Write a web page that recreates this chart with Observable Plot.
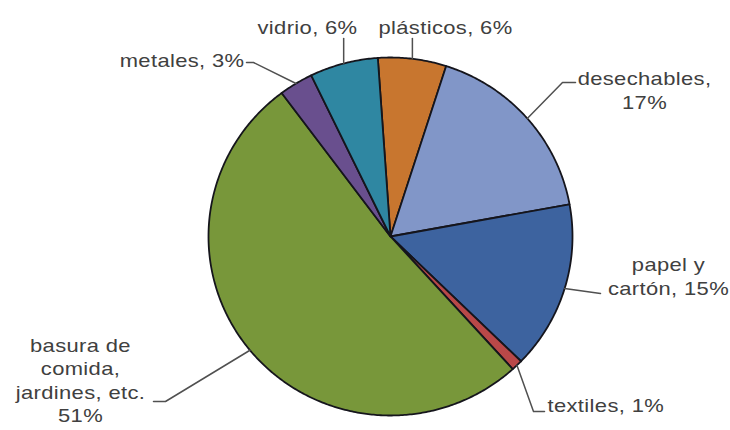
<!DOCTYPE html>
<html><head><meta charset="utf-8">
<script src="https://cdn.jsdelivr.net/npm/d3@7"></script>
<script src="https://cdn.jsdelivr.net/npm/@observablehq/plot@0.6"></script>
<style>
body{margin:0;background:#fff}
#chart svg text{letter-spacing:0.3px}
</style></head><body><div id="chart"></div>
<script>
// ---- data ----
const categories = ["plásticos","desechables","papel y cartón","textiles","basura de comida, jardines, etc.","metales","vidrio"];
const values = [6, 17, 15, 1, 51, 3, 6];
const labelTexts = ["plásticos, 6%","desechables,\n17%","papel y\ncartón, 15%","textiles, 1%","basura de\ncomida,\njardines, etc.\n51%","metales, 3%","vidrio, 6%"];
const sliceColors = ["#c8762f","#8196c8","#3d639f","#b94848","#78973a","#694f8e","#2f87a2"];

// ---- layout (pixel space) ----
const W = 730, H = 430;
const cx = 390, cy = 236, rx = 182, ry = 179;
const startAngle = -4 * Math.PI / 180;
const textStretch = 1.22;
// annotation layout: label anchor + leader bend points
const annot = [
  {x: 445, y: 26, anchor: "middle", leader: (p) => [[p[0], 38]]},
  {x: 644, y: 89, anchor: "middle", leader: () => [[562, 82], [575, 82]]},
  {x: 668, y: 275, anchor: "middle", leader: () => [[600, 293]]},
  {x: 547, y: 404, anchor: "start", leader: () => [[533, 411], [544, 411]]},
  {x: 80, y: 379, anchor: "middle", leader: () => [[165, 401], [153, 401]]},
  {x: 244, y: 59, anchor: "end", leader: () => [[253, 62], [246, 62]]},
  {x: 307, y: 26, anchor: "middle", leader: (p) => [[p[0], 38]]}
];

const arcs = d3.pie().sort(null).startAngle(startAngle).endAngle(startAngle + 2 * Math.PI)(values);
const pt = (a) => [cx + rx * Math.sin(a), cy - ry * Math.cos(a)];

const slicePts = [];
arcs.forEach((d, i) => {
  const cat = categories[i];
  slicePts.push({cat, x: cx, y: cy});
  const n = Math.max(2, Math.ceil((d.endAngle - d.startAngle) / 0.01));
  for (let k = 0; k <= n; k++) {
    const [x, y] = pt(d.startAngle + (d.endAngle - d.startAngle) * k / n);
    slicePts.push({cat, x, y});
  }
});

const leaderPts = [];
const labels = [];
arcs.forEach((d, i) => {
  const cat = categories[i];
  const p = pt((d.startAngle + d.endAngle) / 2);
  leaderPts.push({cat, x: p[0], y: p[1]});
  annot[i].leader(p).forEach(([x, y]) => leaderPts.push({cat, x, y}));
  labels.push({cat, text: labelTexts[i], x: annot[i].x, y: annot[i].y, anchor: annot[i].anchor});
});

const textMarks = ["start", "middle", "end"].map(a =>
  Plot.text(labels.filter(l => l.anchor === a), {
    x: "x", y: "y", text: "text", textAnchor: a, lineAnchor: "middle",
    lineHeight: 1.3, fontSize: 18, fontFamily: "Liberation Sans, Arial, sans-serif",
    fill: "#404040"
  })
);

const chart = Plot.plot({
  width: W, height: H,
  marginTop: 0, marginRight: 0, marginBottom: 0, marginLeft: 0,
  x: {type: "linear", domain: [0, W], range: [0, W], axis: null},
  y: {type: "linear", domain: [0, H], range: [0, H], axis: null},
  color: {domain: categories, range: sliceColors},
  style: {background: "#fff"},
  marks: [
    Plot.line(slicePts, {x: "x", y: "y", z: "cat", fill: "cat", stroke: "#15151c", strokeWidth: 1.8, curve: "linear-closed", strokeLinejoin: "round"}),
    Plot.line(leaderPts, {x: "x", y: "y", z: "cat", stroke: "#505050", strokeWidth: 1.5}),
    ...textMarks
  ]
});
// widen glyphs horizontally about each label's anchor (reference text is stretched)
chart.querySelectorAll("text").forEach(t => {
  const tr = t.getAttribute("transform");
  if (tr && /translate/.test(tr)) t.setAttribute("transform", tr + ` scale(${textStretch},1)`);
});
document.getElementById("chart").append(chart);
</script>
</body></html>
